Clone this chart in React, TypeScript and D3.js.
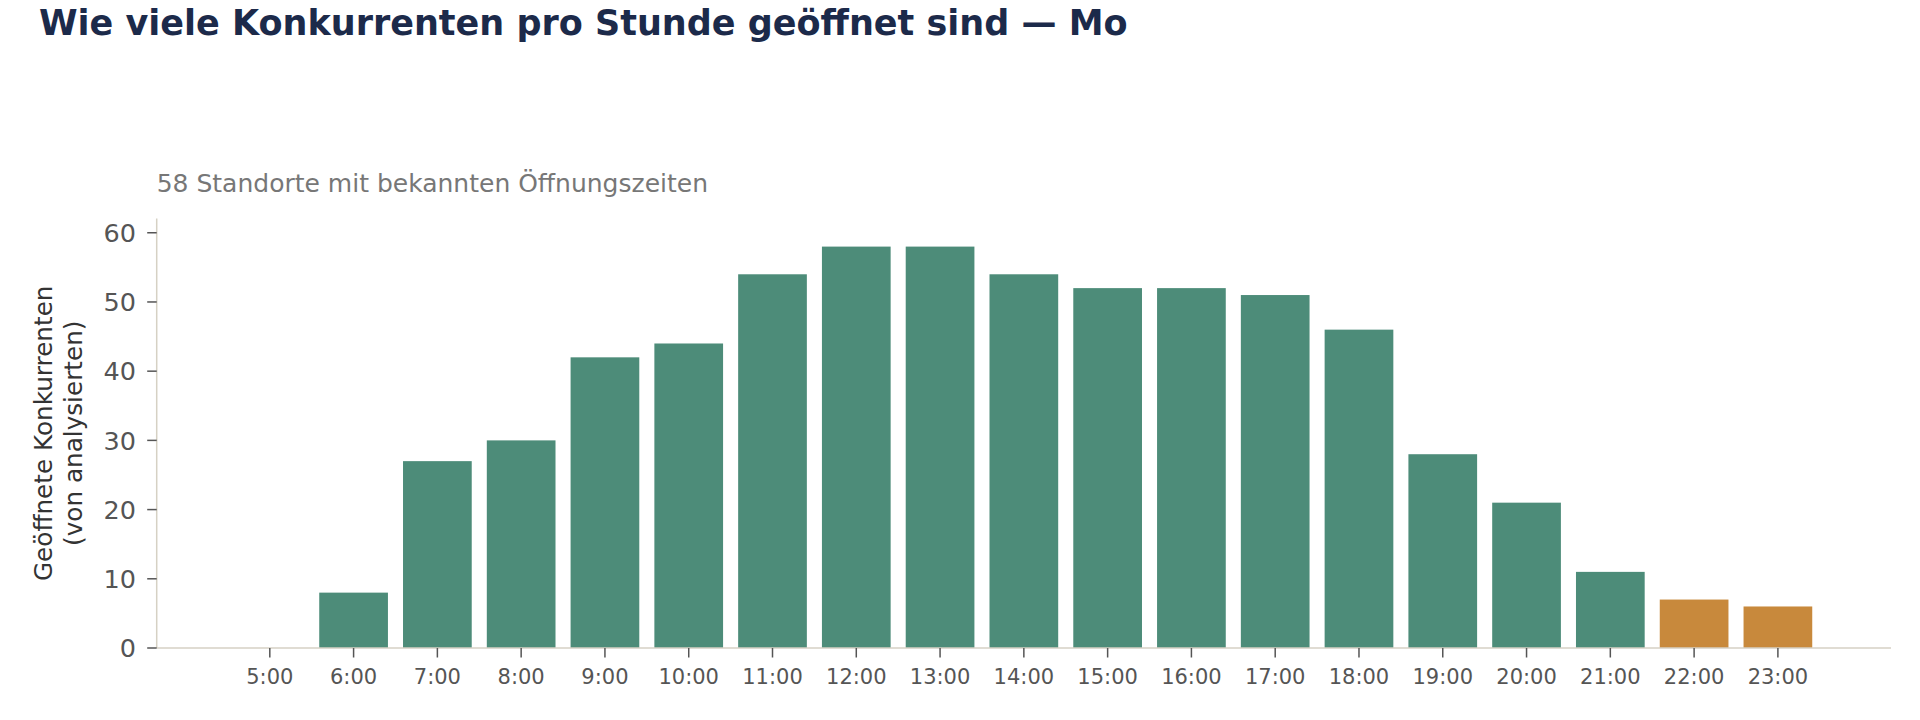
import React from "react";
import * as d3 from "d3";

const hours = [5, 6, 7, 8, 9, 10, 11, 12, 13, 14, 15, 16, 17, 18, 19, 20, 21, 22, 23];
const openCounts = [0, 8, 27, 30, 42, 44, 54, 58, 58, 54, 52, 52, 51, 46, 28, 21, 11, 7, 6];
const lateHours = [22, 23];
const yTicks = [0, 10, 20, 30, 40, 50, 60];

const title = "Wie viele Konkurrenten pro Stunde geöffnet sind — Mo";
const subtitle = "58 Standorte mit bekannten Öffnungszeiten";
const yLabelLines = ["Geöffnete Konkurrenten", "(von analysierten)"];

const W = 1920;
const H = 720;
const FONT = "'DejaVu Sans', sans-serif";
const GREEN = "#4d8c79";
const ORANGE = "#c8893c";

export default function App() {
  const left = 156.7;
  const right = 1891;
  const top = 218.5;
  const bottom = 648;

  const maxV = d3.max(openCounts) as number;
  const x = d3.scaleLinear().domain([hours[0] - 1.35, hours[hours.length - 1] + 1.35]).range([left, right]);
  const y = d3.scaleLinear().domain([0, maxV * 1.07]).range([bottom, top]);
  const bandW = x(1) - x(0);
  const barW = bandW * 0.82;

  return (
    <svg width={W} height={H} style={{ position: "absolute", left: 0, top: 0, background: "#fff" }} fontFamily={FONT}>
      <text x={39} y={35} fontSize={35} fontWeight="bold" fill="#1c2a4a">{title}</text>
      <text x={left} y={192} fontSize={25} fill="#777777">{subtitle}</text>

      {hours.map((h, i) => (
        <rect
          key={h}
          x={x(h) - barW / 2}
          y={y(openCounts[i])}
          width={barW}
          height={y(0) - y(openCounts[i])}
          fill={lateHours.includes(h) ? ORANGE : GREEN}
        />
      ))}

      <line x1={left} x2={left} y1={top} y2={bottom} stroke="#d6d1c4" strokeWidth={1.5} />
      <line x1={left} x2={right} y1={bottom} y2={bottom} stroke="#d6d1c4" strokeWidth={1.5} />

      {yTicks.map((t) => (
        <g key={t}>
          <line x1={left - 9.5} x2={left} y1={y(t)} y2={y(t)} stroke="#555" strokeWidth={1.5} />
          <text x={136} y={y(t)} dy="0.36em" textAnchor="end" fontSize={25.5} fill="#555">{t}</text>
        </g>
      ))}

      {hours.map((h) => (
        <g key={h}>
          <line x1={x(h)} x2={x(h)} y1={bottom} y2={bottom + 9.5} stroke="#555" strokeWidth={1.5} />
          <text x={x(h)} y={684} textAnchor="middle" fontSize={21} fill="#555">{`${h}:00`}</text>
        </g>
      ))}

      <g transform={`translate(0, ${(top + bottom) / 2}) rotate(-90)`}>
        {yLabelLines.map((l, i) => (
          <text key={i} x={0} y={51.5 + i * 30} textAnchor="middle" fontSize={24.7} fill="#333">{l}</text>
        ))}
      </g>
    </svg>
  );
}
